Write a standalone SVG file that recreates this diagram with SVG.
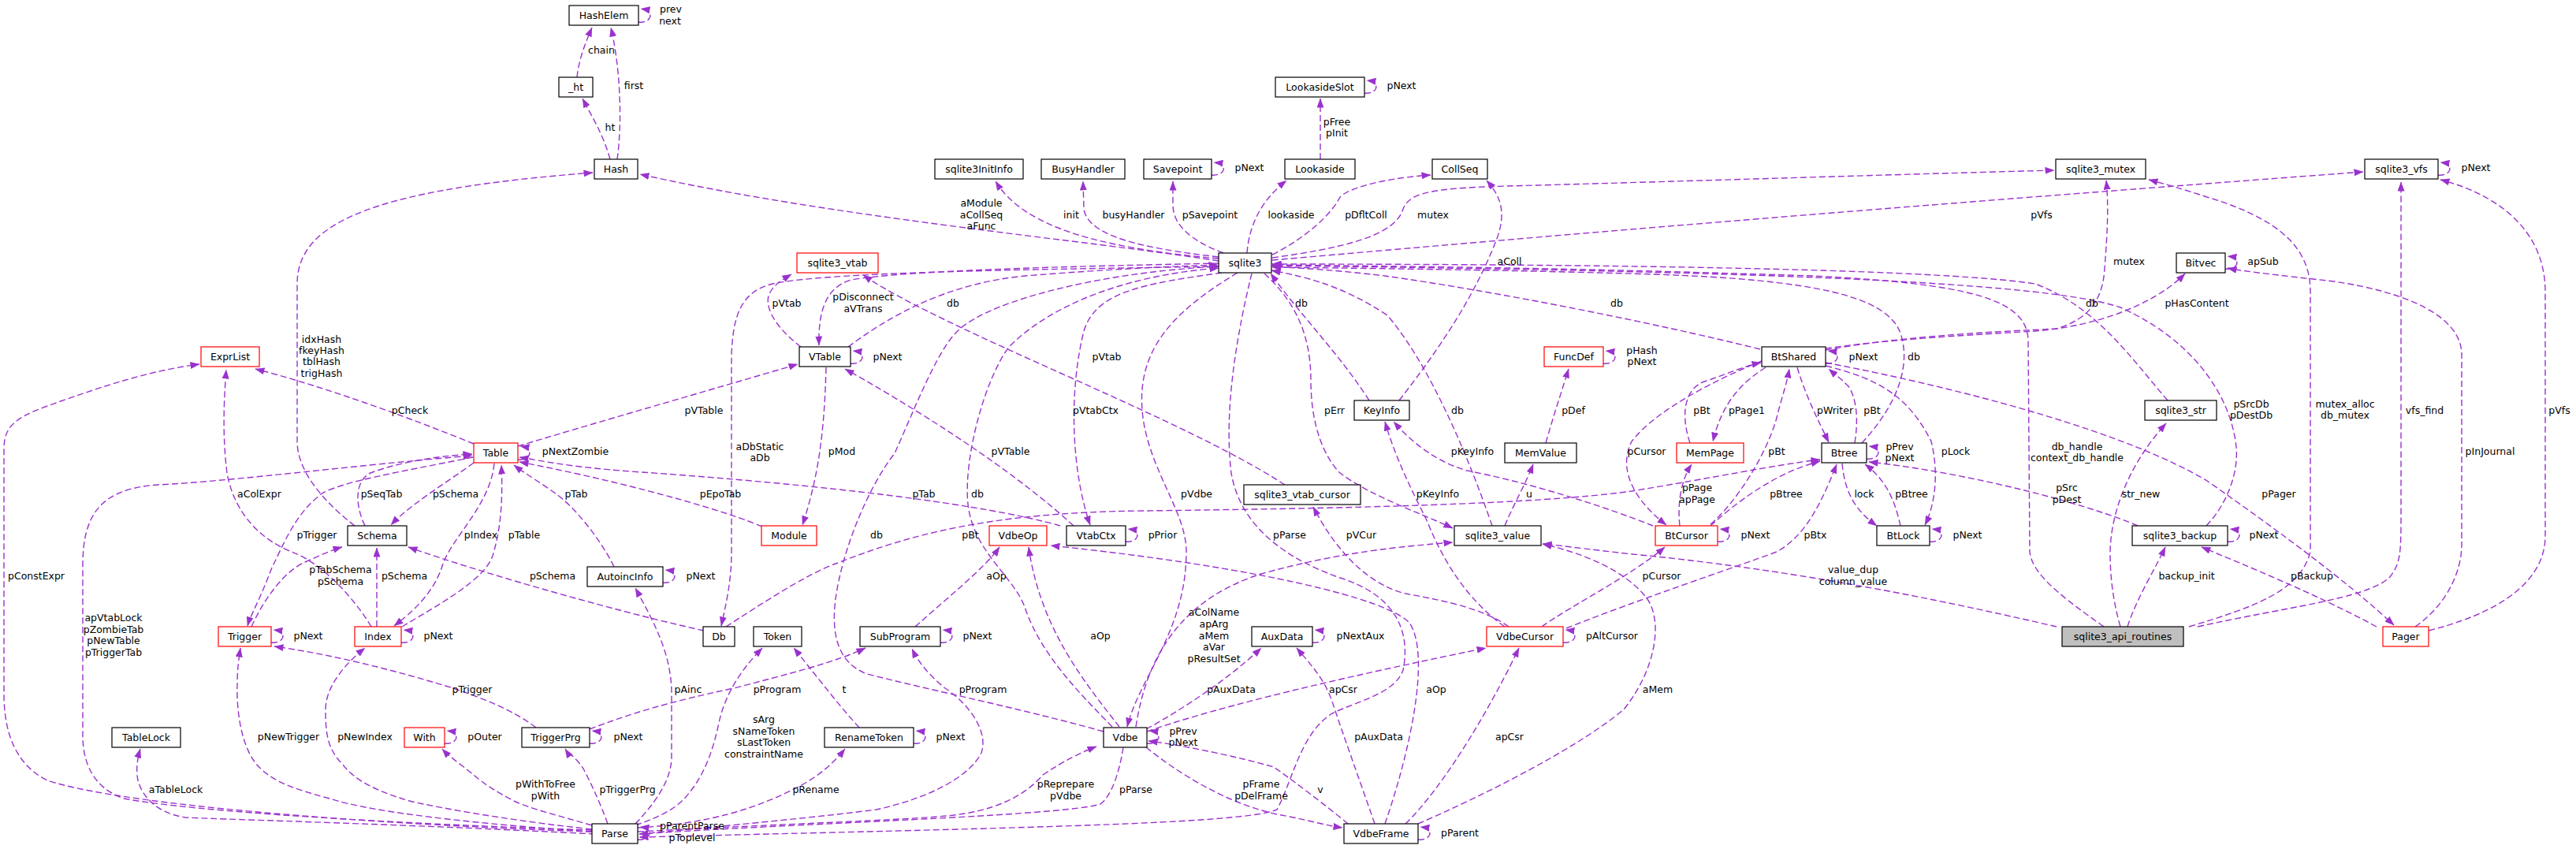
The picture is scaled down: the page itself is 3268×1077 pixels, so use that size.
<svg xmlns="http://www.w3.org/2000/svg" width="3268" height="1077" viewBox="0 0 3268 1077">
<style>
.n rect{fill:#fff;stroke:#000;stroke-width:1.2}
.n.r rect{stroke:#ff0000}
.n.g rect{fill:#bfbfbf}
.n text,.l{font-family:"DejaVu Sans",sans-serif;font-size:12.5px;text-anchor:middle;fill:#000}
.e{fill:none;stroke:#9a32cd;stroke-width:1.4;stroke-dasharray:8,4;marker-end:url(#a)}
</style>
<defs>
<marker id="a" markerWidth="12" markerHeight="9" refX="11.5" refY="4.5" orient="auto" markerUnits="userSpaceOnUse"><path d="M0,0 L12,4.5 L0,9 z" fill="#9a32cd"/></marker>
</defs>
<rect width="3268" height="1077" fill="#fff"/>
<g id="edges">
<path class="e" d="M810,28 C826,30 832,14 813,11"/>
<path class="e" d="M732,98 C734,78 741,58 751,35"/>
<path class="e" d="M783,202 C789,160 788,90 775,35"/>
<path class="e" d="M774,202 C765,170 752,150 739,125"/>
<path class="e" d="M1546,331 C1380,305 1050,275 812,221"/>
<path class="e" d="M1546,328 C1400,315 1300,290 1263,230"/>
<path class="e" d="M1546,326 C1450,315 1380,300 1375,265 L1374,230"/>
<path class="e" d="M1552,321 C1510,305 1488,285 1488,260 L1488,230"/>
<path class="e" d="M1537,222 C1553,224 1560,208 1540,206"/>
<path class="e" d="M1582,321 C1585,280 1605,250 1632,229"/>
<path class="e" d="M1675,202 L1675,125"/>
<path class="e" d="M1731,118 C1747,120 1753,104 1734,102"/>
<path class="e" d="M1614,323 C1660,300 1690,270 1700,250 C1715,235 1770,225 1815,222"/>
<path class="e" d="M1614,327 C1700,315 1770,300 1780,265 C1790,240 1830,238 1950,235 C2200,228 2450,220 2606,216"/>
<path class="e" d="M1614,330 C1900,305 2300,270 2998,218"/>
<path class="e" d="M1775,508 C1820,450 1870,380 1900,300 C1910,270 1905,250 1886,229"/>
<path class="e" d="M1016,440 C990,420 970,395 975,375 C980,362 992,355 1004,348"/>
<path class="e" d="M1546,334 C1350,338 1150,343 1080,355 C1045,365 1038,400 1039,438"/>
<path class="e" d="M1076,440 C1130,400 1200,360 1300,350 C1400,342 1480,338 1545,336"/>
<path class="e" d="M1630,615 C1500,530 1200,420 1095,349"/>
<path class="e" d="M1079,461 C1095,463 1101,447 1082,445"/>
<path class="e" d="M1048,466 C1046,540 1040,600 1018,666"/>
<path class="e" d="M657,566 C760,535 900,495 1012,462"/>
<path class="e" d="M1550,346 C1450,360 1390,370 1375,420 C1355,500 1360,600 1383,666"/>
<path class="e" d="M1362,667 C1300,610 1200,540 1072,468"/>
<path class="e" d="M1345,667 C1250,640 1050,615 800,598 C720,592 690,585 659,580"/>
<path class="e" d="M967,668 C900,640 760,605 659,586"/>
<path class="e" d="M1428,687 C1444,689 1450,673 1431,671"/>
<path class="e" d="M657,583 C673,585 679,569 660,566"/>
<path class="e" d="M601,563 C520,530 410,490 324,468"/>
<path class="e" d="M450,667 C415,640 377,600 377,560 L377,360 C377,280 480,240 752,219"/>
<path class="e" d="M601,587 C570,610 520,640 496,666"/>
<path class="e" d="M463,667 C450,640 450,610 470,600 C510,585 560,578 599,576"/>
<path class="e" d="M751,1053 C500,1045 250,1030 157,1013 C120,1000 105,970 105,933 L105,717 C105,650 130,620 200,615 C300,610 450,590 599,578"/>
<path class="e" d="M751,1055 C450,1045 150,1020 60,990 C20,970 5,930 5,880 L5,570 C5,540 20,530 60,515 C130,490 190,470 253,462"/>
<path class="e" d="M471,795 C450,760 410,715 370,700 C320,680 295,640 288,600 C283,560 283,520 287,469"/>
<path class="e" d="M319,795 C335,760 360,725 387,713 C405,705 420,698 434,694"/>
<path class="e" d="M600,580 C500,600 440,610 410,625 C375,650 360,690 345,720 C330,760 318,780 314,794"/>
<path class="e" d="M478,795 L478,695"/>
<path class="e" d="M627,588 C622,640 575,680 562,715 C552,750 525,775 500,794"/>
<path class="e" d="M510,795 C560,765 615,735 625,705 C636,670 638,630 636,590"/>
<path class="e" d="M509,815 C525,817 531,801 512,799"/>
<path class="e" d="M344,815 C360,817 366,801 347,799"/>
<path class="e" d="M779,719 C760,680 725,640 706,627 C690,615 665,600 652,590"/>
<path class="e" d="M841,739 C857,741 863,725 844,723"/>
<path class="e" d="M806,1045 C830,1020 852,990 852,960 L852,880 C852,830 830,790 806,746"/>
<path class="e" d="M893,800 C800,780 620,730 518,694"/>
<path class="e" d="M1546,338 C1300,342 1050,345 980,360 C940,370 930,400 928,450 L928,700 C928,740 920,770 915,794"/>
<path class="e" d="M921,795 C960,770 1020,730 1060,715 C1150,680 1250,650 1450,648 C1700,645 1950,640 2070,623 C2180,605 2250,590 2309,583"/>
<path class="e" d="M1400,928 C1300,900 1200,880 1100,855 C1060,840 1055,800 1060,760 C1068,700 1100,620 1135,575 C1160,520 1190,440 1218,417 C1260,380 1400,345 1546,338"/>
<path class="e" d="M1411,922 C1370,880 1320,830 1300,770 C1285,730 1235,700 1228,640 C1222,580 1250,480 1280,440 C1330,390 1420,350 1546,340"/>
<path class="e" d="M1570,346 C1480,400 1440,450 1450,530 C1460,600 1505,650 1505,700 C1505,800 1445,860 1430,922"/>
<path class="e" d="M1420,922 C1380,870 1320,800 1305,694"/>
<path class="e" d="M1161,795 C1200,760 1250,720 1268,694"/>
<path class="e" d="M1193,815 C1209,817 1215,801 1196,799"/>
<path class="e" d="M1757,1045 C1790,950 1815,830 1788,790 C1760,760 1600,720 1333,692"/>
<path class="e" d="M1441,922 C1455,830 1500,760 1600,728 C1700,700 1780,693 1843,688"/>
<path class="e" d="M1454,925 C1500,900 1560,860 1600,822"/>
<path class="e" d="M1455,928 C1550,895 1700,860 1885,822"/>
<path class="e" d="M1455,943 C1471,945 1477,929 1458,927"/>
<path class="e" d="M1454,948 C1500,985 1560,1020 1620,1033 C1660,1040 1680,1047 1703,1050"/>
<path class="e" d="M1710,1045 C1680,1020 1640,990 1616,973 C1570,960 1500,945 1457,940"/>
<path class="e" d="M1783,1045 C1830,1000 1890,900 1927,822"/>
<path class="e" d="M1799,1045 C1880,1010 2000,950 2060,900 C2100,850 2110,790 2090,760 C2060,720 2000,700 1957,690"/>
<path class="e" d="M1744,1045 C1725,990 1705,935 1690,890 C1680,860 1660,840 1645,822"/>
<path class="e" d="M1799,1065 C1815,1067 1821,1051 1802,1049"/>
<path class="e" d="M1665,815 C1681,817 1687,801 1668,799"/>
<path class="e" d="M1983,815 C1999,817 2005,801 1986,799"/>
<path class="e" d="M1956,795 C1990,770 2070,730 2112,694"/>
<path class="e" d="M1987,797 C2080,760 2200,720 2254,700 C2290,680 2310,640 2330,589"/>
<path class="e" d="M1914,795 C1880,770 1820,760 1783,753 C1730,740 1690,690 1666,643"/>
<path class="e" d="M1909,795 C1860,760 1830,710 1810,660 C1790,620 1770,580 1757,535"/>
<path class="e" d="M2097,667 C2030,640 1930,610 1861,597 C1820,585 1790,560 1768,535"/>
<path class="e" d="M1604,347 C1640,380 1663,420 1663,483 C1663,540 1680,580 1700,600 C1740,630 1800,650 1843,670"/>
<path class="e" d="M1893,667 C1870,600 1820,470 1760,400 C1700,360 1650,350 1613,343"/>
<path class="e" d="M1737,508 C1700,450 1650,400 1612,347"/>
<path class="e" d="M1909,667 C1920,640 1935,615 1945,589"/>
<path class="e" d="M1961,562 C1970,530 1980,500 1990,468"/>
<path class="e" d="M2034,461 C2050,463 2056,447 2037,445"/>
<path class="e" d="M2233,443 C2100,410 1900,370 1757,350 C1700,343 1650,340 1614,338"/>
<path class="e" d="M2316,461 C2332,463 2338,447 2319,445"/>
<path class="e" d="M2170,665 C2200,640 2240,580 2254,530 C2260,505 2266,490 2270,468"/>
<path class="e" d="M2235,458 C2180,480 2100,520 2070,560 C2050,600 2080,640 2114,666"/>
<path class="e" d="M2144,562 C2130,520 2140,490 2165,483 C2190,475 2210,465 2234,460"/>
<path class="e" d="M2240,466 C2210,485 2185,510 2173,560"/>
<path class="e" d="M2131,667 C2128,640 2132,610 2146,589"/>
<path class="e" d="M2170,667 C2200,640 2250,600 2309,585"/>
<path class="e" d="M2179,687 C2195,689 2201,673 2182,671"/>
<path class="e" d="M2280,466 C2290,500 2305,530 2320,561"/>
<path class="e" d="M2353,562 C2358,530 2355,505 2345,490 C2335,480 2328,475 2320,468"/>
<path class="e" d="M2368,582 C2384,584 2390,568 2371,566"/>
<path class="e" d="M2337,588 C2340,620 2350,645 2381,667"/>
<path class="e" d="M2411,667 C2405,640 2395,610 2366,589"/>
<path class="e" d="M2448,687 C2464,689 2470,673 2451,671"/>
<path class="e" d="M2316,464 C2380,480 2420,500 2450,560 C2460,600 2455,640 2442,666"/>
<path class="e" d="M2362,562 C2410,510 2425,460 2410,420 C2390,375 2300,355 2100,348 C1900,342 1700,340 1614,339"/>
<path class="e" d="M2750,508 C2700,450 2660,390 2582,360 C2450,340 2000,335 1614,335"/>
<path class="e" d="M2316,442 C2400,430 2500,425 2582,420 C2650,415 2730,390 2772,347"/>
<path class="e" d="M2316,444 C2420,425 2550,420 2609,417 C2650,405 2668,380 2670,340 C2674,290 2675,260 2672,229"/>
<path class="e" d="M2777,795 C2860,770 2918,750 2931,700 L2931,370 C2931,320 2900,280 2800,250 C2770,240 2745,233 2726,228"/>
<path class="e" d="M2788,795 C2900,770 3000,760 3031,733 C3046,715 3046,700 3046,650 L3046,231"/>
<path class="e" d="M2609,795 C2500,770 2300,725 2071,703 C2000,695 1980,692 1957,690"/>
<path class="e" d="M2690,795 C2680,760 2677,730 2677,700 C2678,650 2700,590 2748,537"/>
<path class="e" d="M2699,795 C2710,760 2735,720 2747,694"/>
<path class="e" d="M2669,795 C2620,760 2578,730 2575,700 L2573,430 C2570,380 2500,360 2300,350 C2000,340 1800,338 1614,336"/>
<path class="e" d="M3015,795 C2950,760 2880,730 2793,694"/>
<path class="e" d="M2316,460 C2500,495 2700,550 2800,610 C2900,680 2980,740 3037,793"/>
<path class="e" d="M3064,795 C3100,770 3123,730 3123,690 L3123,450 C3123,400 3050,370 2961,357 C2900,350 2850,345 2826,340"/>
<path class="e" d="M3081,800 C3200,770 3229,720 3229,680 L3229,370 C3229,300 3180,250 3096,228"/>
<path class="e" d="M3093,222 C3109,224 3115,208 3096,206"/>
<path class="e" d="M2823,341 C2839,343 2845,327 2826,325"/>
<path class="e" d="M2712,667 C2650,640 2500,600 2371,586"/>
<path class="e" d="M2799,667 C2825,640 2840,600 2837,567 C2830,500 2780,430 2690,390 C2600,360 2300,345 1614,337"/>
<path class="e" d="M2826,687 C2842,689 2848,673 2829,671"/>
<path class="e" d="M755,1058 C500,1045 300,1040 235,1037 C190,1030 175,1000 174,983 C173,970 175,960 178,950"/>
<path class="e" d="M751,1055 C600,1045 470,1030 418,1013 C370,1000 340,990 322,965 C305,940 300,900 301,867 C301,850 303,835 305,822"/>
<path class="e" d="M751,1052 C640,1040 560,1025 523,1017 C480,1005 450,990 435,970 C415,950 413,930 413,900 C413,870 440,840 463,822"/>
<path class="e" d="M751,1047 C710,1035 670,1025 654,1017 C630,1005 612,993 601,983 C585,970 570,960 561,950"/>
<path class="e" d="M771,1045 C760,1015 748,990 740,975 C730,960 720,955 717,950"/>
<path class="e" d="M680,923 C650,900 610,885 575,873 C500,850 420,830 348,820"/>
<path class="e" d="M748,943 C764,945 770,929 751,927"/>
<path class="e" d="M564,943 C580,945 586,929 567,927"/>
<path class="e" d="M809,1065 C825,1067 831,1051 812,1049"/>
<path class="e" d="M806,1047 C840,1035 860,1025 875,1005 C895,980 905,950 912,917 C920,880 940,850 967,822"/>
<path class="e" d="M809,1050 C900,1045 960,1025 1009,1000 C1040,985 1060,965 1072,950"/>
<path class="e" d="M1090,923 C1060,890 1030,850 1007,822"/>
<path class="e" d="M1159,943 C1175,945 1181,929 1162,927"/>
<path class="e" d="M748,925 C800,905 850,890 931,873 C1000,855 1060,840 1098,822"/>
<path class="e" d="M811,1058 C950,1045 1050,1035 1112,1027 C1180,1012 1230,985 1245,955 C1255,925 1225,890 1199,873 C1180,858 1165,840 1157,823"/>
<path class="e" d="M809,1055 C1000,1045 1150,1040 1200,1035 C1260,1030 1300,1010 1323,983 C1350,965 1370,955 1391,947"/>
<path class="e" d="M1425,948 C1420,980 1410,1010 1396,1020 C1350,1035 1000,1045 811,1058"/>
<path class="e" d="M1588,347 C1570,420 1552,520 1562,600 C1572,660 1620,705 1700,733 C1770,755 1790,800 1780,850 C1770,880 1720,890 1690,905 C1650,930 1640,990 1620,1027 C1580,1045 1300,1050 811,1062"/>
</g>
<g id="edge-labels">
<text class="l" x="851" y="16">prev</text><text class="l" x="850" y="31">next</text>
<text class="l" x="763" y="68">chain</text>
<text class="l" x="804" y="113">first</text>
<text class="l" x="774" y="166">ht</text>
<text class="l" x="1245" y="262">aModule</text><text class="l" x="1245" y="277">aCollSeq</text><text class="l" x="1245" y="291">aFunc</text>
<text class="l" x="1359" y="277">init</text>
<text class="l" x="1438" y="277">busyHandler</text>
<text class="l" x="1535" y="277">pSavepoint</text>
<text class="l" x="1585" y="217">pNext</text>
<text class="l" x="1638" y="277">lookaside</text>
<text class="l" x="1696" y="159">pFree</text><text class="l" x="1696" y="173">pInit</text>
<text class="l" x="1778" y="113">pNext</text>
<text class="l" x="1733" y="277">pDfltColl</text>
<text class="l" x="1818" y="277">mutex</text>
<text class="l" x="1915" y="336">aColl</text>
<text class="l" x="3141" y="217">pNext</text>
<text class="l" x="2590" y="277">pVfs</text>
<text class="l" x="2701" y="336">mutex</text>
<text class="l" x="2871" y="336">apSub</text>
<text class="l" x="408" y="435">idxHash</text><text class="l" x="408" y="449">fkeyHash</text><text class="l" x="408" y="463">tblHash</text><text class="l" x="408" y="478">trigHash</text>
<text class="l" x="520" y="525">pCheck</text>
<text class="l" x="730" y="577">pNextZombie</text>
<text class="l" x="329" y="631">aColExpr</text>
<text class="l" x="484" y="631">pSeqTab</text>
<text class="l" x="578" y="631">pSchema</text>
<text class="l" x="731" y="631">pTab</text>
<text class="l" x="402" y="683">pTrigger</text>
<text class="l" x="610" y="683">pIndex</text>
<text class="l" x="665" y="683">pTable</text>
<text class="l" x="998" y="389">pVtab</text>
<text class="l" x="1095" y="381">pDisconnect</text><text class="l" x="1095" y="396">aVTrans</text>
<text class="l" x="1209" y="389">db</text>
<text class="l" x="1126" y="457">pNext</text>
<text class="l" x="893" y="525">pVTable</text>
<text class="l" x="1404" y="457">pVtab</text>
<text class="l" x="1390" y="525">pVtabCtx</text>
<text class="l" x="964" y="571">aDbStatic</text><text class="l" x="964" y="585">aDb</text>
<text class="l" x="1068" y="577">pMod</text>
<text class="l" x="1282" y="577">pVTable</text>
<text class="l" x="914" y="631">pEpoTab</text>
<text class="l" x="1172" y="631">pTab</text>
<text class="l" x="1240" y="631">db</text>
<text class="l" x="1518" y="631">pVdbe</text>
<text class="l" x="1112" y="683">db</text>
<text class="l" x="1231" y="683">pBt</text>
<text class="l" x="1475" y="683">pPrior</text>
<text class="l" x="1651" y="389">db</text>
<text class="l" x="2051" y="389">db</text>
<text class="l" x="2083" y="449">pHash</text><text class="l" x="2083" y="463">pNext</text>
<text class="l" x="2364" y="457">pNext</text>
<text class="l" x="1693" y="525">pErr</text>
<text class="l" x="1849" y="525">db</text>
<text class="l" x="1996" y="525">pDef</text>
<text class="l" x="2159" y="525">pBt</text>
<text class="l" x="2216" y="525">pPage1</text>
<text class="l" x="2328" y="525">pWriter</text>
<text class="l" x="2375" y="525">pBt</text>
<text class="l" x="1868" y="577">pKeyInfo</text>
<text class="l" x="2089" y="577">pCursor</text>
<text class="l" x="2254" y="577">pBt</text>
<text class="l" x="2410" y="571">pPrev</text><text class="l" x="2410" y="585">pNext</text>
<text class="l" x="1824" y="631">pKeyInfo</text>
<text class="l" x="1940" y="631">u</text>
<text class="l" x="2153" y="623">pPage</text><text class="l" x="2153" y="638">apPage</text>
<text class="l" x="2266" y="631">pBtree</text>
<text class="l" x="2365" y="631">lock</text>
<text class="l" x="2425" y="631">pBtree</text>
<text class="l" x="1636" y="683">pParse</text>
<text class="l" x="1727" y="683">pVCur</text>
<text class="l" x="2227" y="683">pNext</text>
<text class="l" x="2303" y="683">pBtx</text>
<text class="l" x="2654" y="389">db</text>
<text class="l" x="2787" y="389">pHasContent</text>
<text class="l" x="2428" y="457">db</text>
<text class="l" x="2856" y="517">pSrcDb</text><text class="l" x="2856" y="531">pDestDb</text>
<text class="l" x="2975" y="517">mutex_alloc</text><text class="l" x="2975" y="531">db_mutex</text>
<text class="l" x="3076" y="525">vfs_find</text>
<text class="l" x="3247" y="525">pVfs</text>
<text class="l" x="2481" y="577">pLock</text>
<text class="l" x="2635" y="571">db_handle</text><text class="l" x="2635" y="585">context_db_handle</text>
<text class="l" x="3159" y="577">pInJournal</text>
<text class="l" x="2622" y="623">pSrc</text><text class="l" x="2622" y="638">pDest</text>
<text class="l" x="2716" y="631">str_new</text>
<text class="l" x="2891" y="631">pPager</text>
<text class="l" x="2496" y="683">pNext</text>
<text class="l" x="2872" y="683">pNext</text>
<text class="l" x="46" y="735">pConstExpr</text>
<text class="l" x="432" y="727">pTabSchema</text><text class="l" x="432" y="742">pSchema</text>
<text class="l" x="513" y="735">pSchema</text>
<text class="l" x="701" y="735">pSchema</text>
<text class="l" x="144" y="788">apVtabLock</text><text class="l" x="144" y="803">pZombieTab</text><text class="l" x="144" y="817">pNewTable</text><text class="l" x="144" y="832">pTriggerTab</text>
<text class="l" x="391" y="811">pNext</text>
<text class="l" x="556" y="811">pNext</text>
<text class="l" x="599" y="879">pTrigger</text>
<text class="l" x="366" y="939">pNewTrigger</text>
<text class="l" x="463" y="939">pNewIndex</text>
<text class="l" x="615" y="939">pOuter</text>
<text class="l" x="797" y="939">pNext</text>
<text class="l" x="223" y="1006">aTableLock</text>
<text class="l" x="692" y="999">pWithToFree</text><text class="l" x="692" y="1014">pWith</text>
<text class="l" x="796" y="1006">pTriggerPrg</text>
<text class="l" x="889" y="735">pNext</text>
<text class="l" x="1264" y="735">aOp</text>
<text class="l" x="873" y="879">pAinc</text>
<text class="l" x="986" y="879">pProgram</text>
<text class="l" x="1071" y="879">t</text>
<text class="l" x="1247" y="879">pProgram</text>
<text class="l" x="1396" y="811">aOp</text>
<text class="l" x="1540" y="781">aColName</text><text class="l" x="1540" y="796">apArg</text><text class="l" x="1540" y="811">aMem</text><text class="l" x="1540" y="825">aVar</text><text class="l" x="1540" y="840">pResultSet</text>
<text class="l" x="1240" y="811">pNext</text>
<text class="l" x="1562" y="879">pAuxData</text>
<text class="l" x="969" y="917">sArg</text><text class="l" x="969" y="932">sNameToken</text><text class="l" x="969" y="946">sLastToken</text><text class="l" x="969" y="961">constraintName</text>
<text class="l" x="1206" y="939">pNext</text>
<text class="l" x="1501" y="932">pPrev</text><text class="l" x="1501" y="946">pNext</text>
<text class="l" x="1035" y="1006">pRename</text>
<text class="l" x="1352" y="999">pReprepare</text><text class="l" x="1352" y="1014">pVdbe</text>
<text class="l" x="1441" y="1006">pParse</text>
<text class="l" x="1600" y="999">pFrame</text><text class="l" x="1600" y="1014">pDelFrame</text>
<text class="l" x="878" y="1052">pParentParse</text><text class="l" x="878" y="1067">pToplevel</text>
<text class="l" x="2108" y="735">pCursor</text>
<text class="l" x="2351" y="727">value_dup</text><text class="l" x="2351" y="742">column_value</text>
<text class="l" x="1726" y="811">pNextAux</text>
<text class="l" x="2045" y="811">pAltCursor</text>
<text class="l" x="1704" y="879">apCsr</text>
<text class="l" x="1822" y="879">aOp</text>
<text class="l" x="2103" y="879">aMem</text>
<text class="l" x="1749" y="939">pAuxData</text>
<text class="l" x="1915" y="939">apCsr</text>
<text class="l" x="1675" y="1006">v</text>
<text class="l" x="1852" y="1061">pParent</text>
<text class="l" x="2774" y="735">backup_init</text>
<text class="l" x="2933" y="735">pBackup</text>
</g>
<g id="nodes">
<g id="n_HashElem" class="n"><rect x="722" y="7" width="88" height="25"/><text x="766" y="24">HashElem</text></g>
<g id="n_ht" class="n"><rect x="709" y="98" width="43" height="25"/><text x="730.5" y="115">_ht</text></g>
<g id="n_Hash" class="n"><rect x="754" y="202" width="55" height="25"/><text x="781.5" y="219">Hash</text></g>
<g id="n_sqlite3InitInfo" class="n"><rect x="1186" y="202" width="112" height="25"/><text x="1242" y="219">sqlite3InitInfo</text></g>
<g id="n_BusyHandler" class="n"><rect x="1321" y="202" width="106" height="25"/><text x="1374" y="219">BusyHandler</text></g>
<g id="n_Savepoint" class="n"><rect x="1451" y="202" width="86" height="25"/><text x="1494" y="219">Savepoint</text></g>
<g id="n_LookasideSlot" class="n"><rect x="1618" y="98" width="113" height="25"/><text x="1674.5" y="115">LookasideSlot</text></g>
<g id="n_Lookaside" class="n"><rect x="1630" y="202" width="89" height="25"/><text x="1674.5" y="219">Lookaside</text></g>
<g id="n_CollSeq" class="n"><rect x="1817" y="202" width="70" height="25"/><text x="1852" y="219">CollSeq</text></g>
<g id="n_sqlite3_mutex" class="n"><rect x="2608" y="202" width="114" height="25"/><text x="2665" y="219">sqlite3_mutex</text></g>
<g id="n_sqlite3_vfs" class="n"><rect x="3000" y="202" width="93" height="25"/><text x="3046.5" y="219">sqlite3_vfs</text></g>
<g id="n_sqlite3_vtab" class="n r"><rect x="1011" y="321" width="103" height="25"/><text x="1062.5" y="338">sqlite3_vtab</text></g>
<g id="n_sqlite3" class="n"><rect x="1546" y="321" width="67" height="25"/><text x="1579.5" y="338">sqlite3</text></g>
<g id="n_Bitvec" class="n"><rect x="2761" y="321" width="62" height="25"/><text x="2792" y="338">Bitvec</text></g>
<g id="n_ExprList" class="n r"><rect x="255" y="440" width="74" height="25"/><text x="292" y="457">ExprList</text></g>
<g id="n_VTable" class="n"><rect x="1014" y="440" width="65" height="25"/><text x="1046.5" y="457">VTable</text></g>
<g id="n_FuncDef" class="n r"><rect x="1959" y="440" width="75" height="25"/><text x="1996.5" y="457">FuncDef</text></g>
<g id="n_BtShared" class="n"><rect x="2235" y="440" width="81" height="25"/><text x="2275.5" y="457">BtShared</text></g>
<g id="n_KeyInfo" class="n"><rect x="1718" y="508" width="70" height="25"/><text x="1753" y="525">KeyInfo</text></g>
<g id="n_sqlite3_str" class="n"><rect x="2721" y="508" width="91" height="25"/><text x="2766.5" y="525">sqlite3_str</text></g>
<g id="n_Table" class="n r"><rect x="601" y="562" width="56" height="25"/><text x="629" y="579">Table</text></g>
<g id="n_MemValue" class="n"><rect x="1909" y="562" width="91" height="25"/><text x="1954.5" y="579">MemValue</text></g>
<g id="n_MemPage" class="n r"><rect x="2127" y="562" width="85" height="25"/><text x="2169.5" y="579">MemPage</text></g>
<g id="n_Btree" class="n"><rect x="2311" y="562" width="57" height="25"/><text x="2339.5" y="579">Btree</text></g>
<g id="n_sqlite3_vtab_cursor" class="n"><rect x="1578" y="615" width="148" height="25"/><text x="1652" y="632">sqlite3_vtab_cursor</text></g>
<g id="n_Schema" class="n"><rect x="441" y="667" width="75" height="25"/><text x="478.5" y="684">Schema</text></g>
<g id="n_Module" class="n r"><rect x="966" y="667" width="70" height="25"/><text x="1001" y="684">Module</text></g>
<g id="n_VdbeOp" class="n r"><rect x="1255" y="667" width="73" height="25"/><text x="1291.5" y="684">VdbeOp</text></g>
<g id="n_VtabCtx" class="n"><rect x="1353" y="667" width="75" height="25"/><text x="1390.5" y="684">VtabCtx</text></g>
<g id="n_sqlite3_value" class="n"><rect x="1845" y="667" width="110" height="25"/><text x="1900" y="684">sqlite3_value</text></g>
<g id="n_BtCursor" class="n r"><rect x="2100" y="667" width="79" height="25"/><text x="2139.5" y="684">BtCursor</text></g>
<g id="n_BtLock" class="n"><rect x="2381" y="667" width="67" height="25"/><text x="2414.5" y="684">BtLock</text></g>
<g id="n_sqlite3_backup" class="n"><rect x="2705" y="667" width="121" height="25"/><text x="2765.5" y="684">sqlite3_backup</text></g>
<g id="n_AutoincInfo" class="n"><rect x="745" y="719" width="96" height="25"/><text x="793" y="736">AutoincInfo</text></g>
<g id="n_Trigger" class="n r"><rect x="277" y="795" width="67" height="25"/><text x="310.5" y="812">Trigger</text></g>
<g id="n_Index" class="n r"><rect x="450" y="795" width="59" height="25"/><text x="479.5" y="812">Index</text></g>
<g id="n_Db" class="n"><rect x="892" y="795" width="40" height="25"/><text x="912" y="812">Db</text></g>
<g id="n_Token" class="n"><rect x="956" y="795" width="61" height="25"/><text x="986.5" y="812">Token</text></g>
<g id="n_SubProgram" class="n"><rect x="1091" y="795" width="102" height="25"/><text x="1142" y="812">SubProgram</text></g>
<g id="n_AuxData" class="n"><rect x="1588" y="795" width="77" height="25"/><text x="1626.5" y="812">AuxData</text></g>
<g id="n_VdbeCursor" class="n r"><rect x="1886" y="795" width="97" height="25"/><text x="1934.5" y="812">VdbeCursor</text></g>
<g id="n_sqlite3_api_routines" class="n g"><rect x="2616" y="795" width="154" height="25"/><text x="2693" y="812">sqlite3_api_routines</text></g>
<g id="n_Pager" class="n r"><rect x="3023" y="795" width="58" height="25"/><text x="3052" y="812">Pager</text></g>
<g id="n_TableLock" class="n"><rect x="142" y="923" width="87" height="25"/><text x="185.5" y="940">TableLock</text></g>
<g id="n_With" class="n r"><rect x="513" y="923" width="51" height="25"/><text x="538.5" y="940">With</text></g>
<g id="n_TriggerPrg" class="n"><rect x="662" y="923" width="86" height="25"/><text x="705" y="940">TriggerPrg</text></g>
<g id="n_RenameToken" class="n"><rect x="1046" y="923" width="113" height="25"/><text x="1102.5" y="940">RenameToken</text></g>
<g id="n_Vdbe" class="n"><rect x="1400" y="923" width="55" height="25"/><text x="1427.5" y="940">Vdbe</text></g>
<g id="n_Parse" class="n"><rect x="751" y="1045" width="58" height="25"/><text x="780" y="1062">Parse</text></g>
<g id="n_VdbeFrame" class="n"><rect x="1705" y="1045" width="94" height="25"/><text x="1752" y="1062">VdbeFrame</text></g>
</g>
</svg>
